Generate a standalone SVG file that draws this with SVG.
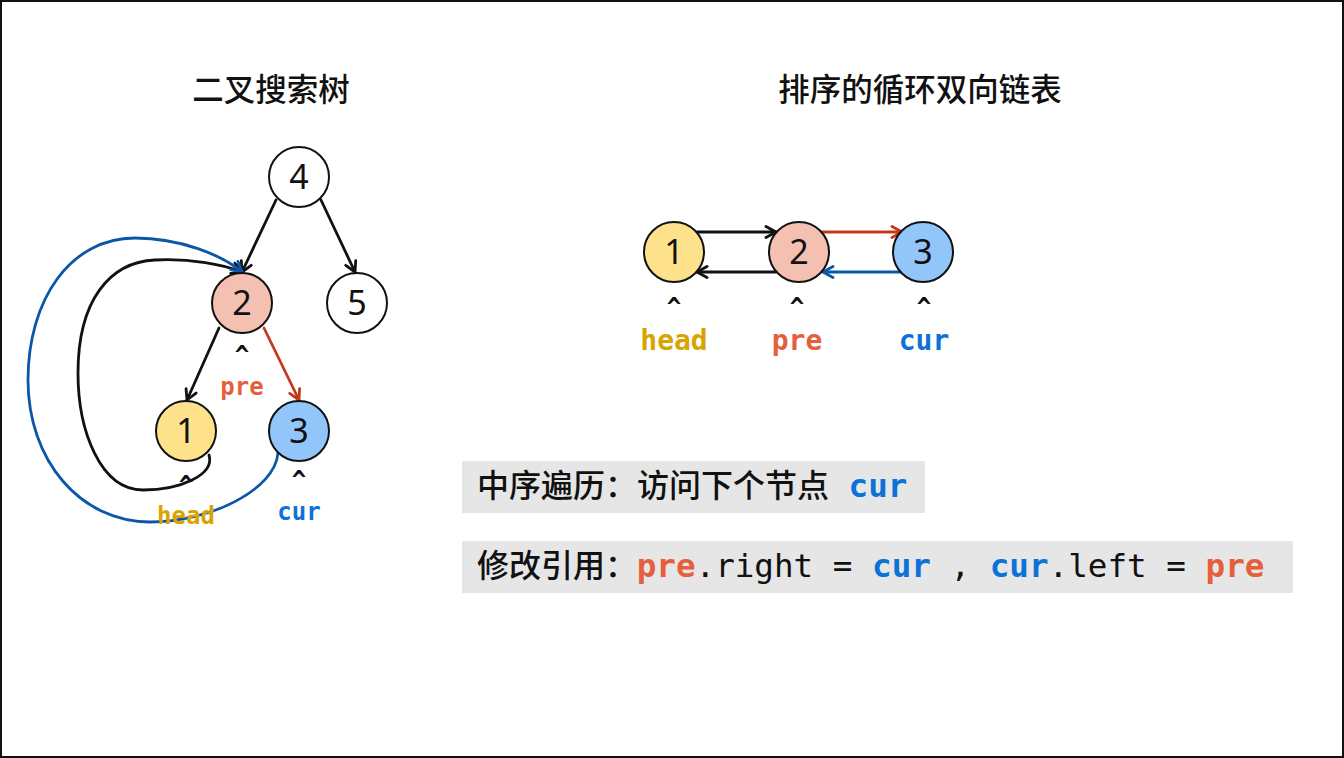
<svg xmlns="http://www.w3.org/2000/svg" width="1344" height="758" viewBox="0 0 1344 758">
<style>
.cjk{font-family:"Noto Sans CJK SC","Noto Sans",sans-serif;fill:#111;font-weight:500}
.title{font-size:31.5px;text-anchor:middle}
.num{font-family:"Noto Sans","DejaVu Sans",sans-serif;font-size:34px;text-anchor:middle;fill:#111}
.mono{font-family:"DejaVu Sans Mono","Liberation Mono",monospace}
.b{font-weight:bold}
.caret{font-family:"DejaVu Sans Mono",monospace;font-size:24px;font-weight:bold;text-anchor:middle;fill:#111}
.lbl{font-family:"DejaVu Sans Mono",monospace;font-weight:bold;text-anchor:middle}
.head{fill:#d9a300}.pre{fill:#e55f3c}.cur{fill:#0b72d8}
.node{stroke:#111;stroke-width:2}
.e{fill:none;stroke-width:2.8;stroke-linecap:round}
.k{stroke:#111;marker-end:url(#ak)}
.r{stroke:#c23a1c;marker-end:url(#ar)}
.bl{stroke:#0c56a9;marker-end:url(#ab)}
.box{fill:#e6e6e6}
</style>
<defs>
<marker id="ak" viewBox="0 0 14 14" refX="12" refY="7" markerWidth="14" markerHeight="14" markerUnits="userSpaceOnUse" orient="auto"><path d="M2,1.5 L12,7 L2,12.5" fill="none" stroke="#111" stroke-width="2.8" stroke-linecap="round" stroke-linejoin="round"/></marker>
<marker id="ar" viewBox="0 0 14 14" refX="12" refY="7" markerWidth="14" markerHeight="14" markerUnits="userSpaceOnUse" orient="auto"><path d="M2,1.5 L12,7 L2,12.5" fill="none" stroke="#c23a1c" stroke-width="2.8" stroke-linecap="round" stroke-linejoin="round"/></marker>
<marker id="ab" viewBox="0 0 14 14" refX="12" refY="7" markerWidth="14" markerHeight="14" markerUnits="userSpaceOnUse" orient="auto"><path d="M2,1.5 L12,7 L2,12.5" fill="none" stroke="#0c56a9" stroke-width="2.8" stroke-linecap="round" stroke-linejoin="round"/></marker>
</defs>
<rect x="1" y="1" width="1342" height="756" fill="#fff" stroke="#111" stroke-width="2"/>

<text class="cjk title" x="271" y="101">二叉搜索树</text>
<text class="cjk title" x="920" y="101">排序的循环双向链表</text>

<g id="connectors">
<line class="e k" x1="276" y1="200" x2="242" y2="272"/>
<line class="e k" x1="321" y1="200" x2="355" y2="272"/>
<line class="e k" x1="219" y1="328" x2="187" y2="400"/>
<line class="e r" x1="264" y1="328" x2="299" y2="400"/>
<path class="e k" d="M209 455 C215 475 180 490 143 490 C100 490 78 430 78 373 C78 300 110 262 155 260 C190 258 225 265 242 272"/>
<path class="e bl" d="M278 453 C275 490 210 522 150 522 C80 522 28 460 28 380 C28 300 70 238 135 238 C180 238 222 255 242 272"/>
<line class="e k" x1="697" y1="232" x2="776" y2="232"/>
<line class="e r" x1="822" y1="232" x2="902" y2="232"/>
<line class="e k" x1="776" y1="272" x2="697" y2="272"/>
<line class="e bl" x1="903" y1="272" x2="823" y2="272"/>
</g>

<g id="t4"><circle class="node" cx="299" cy="177" r="30" fill="#fff"/><text class="num" x="299" y="189">4</text></g>
<g id="t2"><circle class="node" cx="242" cy="303" r="30" fill="#f4c0b1"/><text class="num" x="242" y="315">2</text></g>
<g id="t5"><circle class="node" cx="357" cy="303" r="30" fill="#fff"/><text class="num" x="357" y="315">5</text></g>
<g id="t1"><circle class="node" cx="186" cy="431" r="30" fill="#fde28b"/><text class="num" x="186" y="443">1</text></g>
<g id="t3"><circle class="node" cx="299" cy="431" r="30" fill="#92c6fa"/><text class="num" x="299" y="443">3</text></g>

<g id="tree-labels">
<text class="caret" x="242" y="363">^</text>
<text class="lbl pre" x="242" y="395" font-size="24">pre</text>
<text class="caret" x="186" y="493">^</text>
<text class="lbl head" x="186" y="524" font-size="24">head</text>
<text class="caret" x="299" y="488">^</text>
<text class="lbl cur" x="299" y="520" font-size="24">cur</text>
</g>

<g id="l1"><circle class="node" cx="674" cy="252" r="30" fill="#fde28b"/><text class="num" x="674" y="264">1</text></g>
<g id="l2"><circle class="node" cx="799" cy="252" r="30" fill="#f4c0b1"/><text class="num" x="799" y="264">2</text></g>
<g id="l3"><circle class="node" cx="923" cy="252" r="30" fill="#92c6fa"/><text class="num" x="923" y="264">3</text></g>

<g id="list-labels">
<text class="caret" x="674" y="315">^</text>
<text class="caret" x="797" y="315">^</text>
<text class="caret" x="924" y="315">^</text>
<text class="lbl head" x="674" y="350" font-size="28">head</text>
<text class="lbl pre" x="797" y="350" font-size="28">pre</text>
<text class="lbl cur" x="924" y="350" font-size="28">cur</text>
</g>

<g id="note1">
<rect class="box" x="462" y="461" width="463" height="52"/>
<text x="477" y="497"><tspan class="cjk" font-size="32">中序遍历：访问下个节点</tspan><tspan class="mono b cur" font-size="32.6" x="848.6">cur</tspan></text>
</g>
<g id="note2">
<rect class="box" x="462" y="541" width="831" height="52"/>
<text x="477" y="577"><tspan class="cjk" font-size="32">修改引用：</tspan><tspan class="mono" font-size="32.6" x="636.7"><tspan class="b pre">pre</tspan><tspan fill="#111">.right = </tspan><tspan class="b cur">cur</tspan><tspan fill="#111"> , </tspan><tspan class="b cur">cur</tspan><tspan fill="#111">.left = </tspan><tspan class="b pre">pre</tspan></tspan></text>
</g>
</svg>
